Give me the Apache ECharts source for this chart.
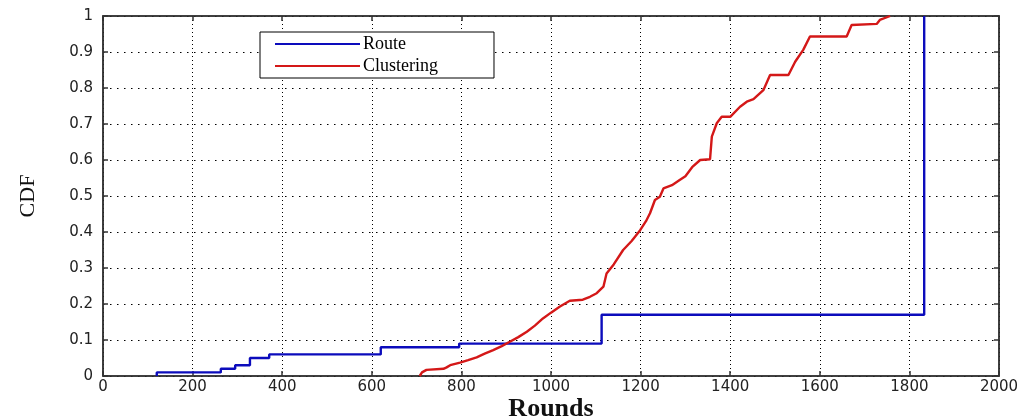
<!DOCTYPE html>
<html>
<head>
<meta charset="utf-8">
<script src="https://cdn.jsdelivr.net/npm/echarts@6/dist/echarts.min.js"></script>
<style>
html,body{margin:0;padding:0;background:#fff;}
#chart{width:1029px;height:417px;}
</style>
</head>
<body>
<div id="chart"></div>
<script>
// Data
const xTicks = [0,200,400,600,800,1000,1200,1400,1600,1800,2000];
const yTicks = [0,0.1,0.2,0.3,0.4,0.5,0.6,0.7,0.8,0.9,1];

// Route: empirical CDF jump points (stepped)
const routeX = [120, 120, 263, 295, 328, 371, 620, 795, 1113, 1833];
const routeY = [0, 0.01, 0.02, 0.03, 0.05, 0.06, 0.08, 0.09, 0.17, 1.0];

// Clustering: vertices of the (finely stepped) curve
const clusterX = [707, 712, 722, 760, 767, 775, 797, 815, 834, 852, 871, 890, 908, 927, 946, 964, 982, 1000, 1020, 1042, 1071, 1087, 1102, 1117, 1124, 1140, 1161, 1180, 1199, 1212, 1221, 1232, 1243, 1251, 1270, 1288, 1300, 1315, 1333, 1355, 1359, 1370, 1381, 1400, 1422, 1437, 1452, 1474, 1489, 1530, 1545, 1563, 1578, 1660, 1671, 1727, 1734, 1757];
const clusterY = [0, 0.01, 0.017, 0.02, 0.024, 0.03, 0.037, 0.044, 0.052, 0.062, 0.072, 0.083, 0.095, 0.108, 0.123, 0.14, 0.16, 0.176, 0.193, 0.209, 0.212, 0.22, 0.23, 0.248, 0.285, 0.31, 0.35, 0.375, 0.405, 0.43, 0.452, 0.489, 0.498, 0.521, 0.53, 0.545, 0.555, 0.58, 0.6, 0.602, 0.665, 0.702, 0.72, 0.72, 0.748, 0.762, 0.769, 0.794, 0.836, 0.836, 0.873, 0.906, 0.943, 0.943, 0.975, 0.978, 0.989, 1.0];

const seriesNames = ['Route', 'Clustering'];

const zip = (xs, ys) => xs.map((x, i) => [x, ys[i]]);

const chart = echarts.init(document.getElementById('chart'), null, {renderer: 'canvas'});

const tickFont = {fontFamily: 'DejaVu Sans', fontSize: 15, color: '#222'};
const axisLineStyle = {color: '#333', width: 1.5};
const blue = '#0c0cbc';
const red = '#d41818';

const option = {
  animation: false,
  backgroundColor: '#fff',
  grid: {left: 103, right: 30, top: 16, bottom: 41, outerBoundsMode: 'none', containLabel: false, show: true, borderColor: '#333', borderWidth: 1.5, backgroundColor: 'transparent'},
  legend: {
    data: seriesNames,
    orient: 'vertical',
    left: 260,
    top: 32,
    icon: 'rect',
    itemWidth: 85,
    itemHeight: 2,
    itemGap: 4,
    padding: [3, 56, 3, 15],
    backgroundColor: '#fff',
    borderColor: '#000',
    borderWidth: 1,
    borderRadius: 0,
    textStyle: {fontFamily: 'Liberation Serif', fontSize: 18, color: '#000', lineHeight: 17, padding: [0, 0, 0, -2]}
  },
  xAxis: [
    {
      type: 'value', min: xTicks[0], max: xTicks[xTicks.length - 1], interval: 200,
      name: 'Rounds', nameLocation: 'middle', nameGap: 20, nameMoveOverlap: false,
      nameTextStyle: {fontFamily: 'Liberation Serif', fontWeight: 'bold', fontSize: 26, color: '#111'},
      axisLine: {show: true, onZero: false, lineStyle: axisLineStyle},
      axisTick: {show: true, inside: true, length: 5, lineStyle: {color: '#333', width: 1.5}},
      axisLabel: Object.assign({margin: 4, formatter: v => String(v)}, tickFont),
      splitLine: {show: true, lineStyle: {color: '#000', width: 1, type: [1, 3]}}
    },
    {
      type: 'value', position: 'top', min: xTicks[0], max: xTicks[xTicks.length - 1], interval: 200,
      axisLine: {show: true, onZero: false, lineStyle: axisLineStyle},
      axisTick: {show: true, inside: true, length: 5, lineStyle: {color: '#333', width: 1.5}},
      axisLabel: {show: false},
      splitLine: {show: false}
    }
  ],
  yAxis: [
    {
      type: 'value', min: yTicks[0], max: yTicks[yTicks.length - 1], interval: 0.1,
      name: 'CDF', nameLocation: 'middle', nameGap: 64,
      nameTextStyle: {fontFamily: 'Liberation Serif', fontSize: 22, color: '#111'},
      axisLine: {show: true, onZero: false, lineStyle: axisLineStyle},
      axisTick: {show: true, inside: true, length: 5, lineStyle: {color: '#333', width: 1.5}},
      axisLabel: Object.assign({margin: 10, formatter: v => String(Math.round(v * 10) / 10)}, tickFont),
      splitLine: {show: true, lineStyle: {color: '#000', width: 1, type: [1.5, 5.5]}}
    },
    {
      type: 'value', position: 'right', min: yTicks[0], max: yTicks[yTicks.length - 1], interval: 0.1,
      axisLine: {show: true, onZero: false, lineStyle: axisLineStyle},
      axisTick: {show: true, inside: true, length: 5, lineStyle: {color: '#333', width: 1.5}},
      axisLabel: {show: false},
      splitLine: {show: false}
    }
  ],
  series: [
    {
      name: seriesNames[0], type: 'line', step: 'end', symbol: 'none',
      xAxisIndex: 0, yAxisIndex: 0,
      data: zip(routeX, routeY),
      lineStyle: {color: blue, width: 2.4},
      itemStyle: {color: blue}
    },
    {
      name: seriesNames[1], type: 'line', symbol: 'none',
      xAxisIndex: 0, yAxisIndex: 0,
      data: zip(clusterX, clusterY),
      lineStyle: {color: red, width: 2.4},
      itemStyle: {color: red}
    }
  ]
};
chart.setOption(option);
</script>
</body>
</html>
